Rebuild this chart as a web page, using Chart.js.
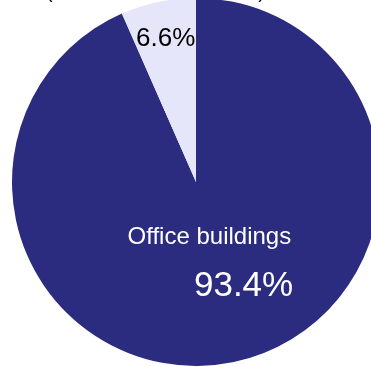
<!DOCTYPE html>
<html lang="en">
<head>
    <meta charset="UTF-8">
    <meta name="viewport" content="width=device-width, initial-scale=1.0">
    <title>Floor space by building type</title>
    <script src="https://cdn.jsdelivr.net/npm/chart.js"></script>

    <style>
        html, body {
            margin: 0;
            padding: 0;
            background-color: white;
            overflow: hidden;
        }
        #wrap {
            position: absolute;
            left: 0;
            top: -36px;
            width: 392px;
            height: 402px;
        }
    </style>

</head>
<body>
    <div id="wrap"><canvas id="pieChart"></canvas></div>
    <script>
        const categories = ['Office buildings', 'Other buildings'];
        const shares = [93.4, 6.6];
        const sliceColors = ['#2b2b7f', '#e6e6fa'];
        const caption = '(share of total floor area)';

        const fontFamily = '"Liberation Sans", Arial, sans-serif';

        // caption line above the pie, mostly cut off by the top edge
        const captionLine = {
            id: 'captionLine',
            afterDraw(chart) {
                const ctx = chart.ctx;
                ctx.save();
                ctx.fillStyle = '#000';
                ctx.font = '20px ' + fontFamily;
                ctx.textAlign = 'left';
                ctx.textBaseline = 'alphabetic';
                ctx.fillText(caption, chart.chartArea.left + 46, chart.chartArea.top);
                ctx.restore();
            }
        };

        // percentage labels written on the slices
        const sliceLabels = {
            id: 'sliceLabels',
            afterDatasetsDraw(chart) {
                const ctx = chart.ctx;
                const arcs = chart.getDatasetMeta(0).data;
                ctx.save();
                arcs.forEach(function(arc, i) {
                    const p = arc.getProps(['x', 'y', 'startAngle', 'endAngle', 'outerRadius'], true);
                    const mid = (p.startAngle + p.endAngle) / 2;
                    const text = shares[i].toFixed(1) + '%';
                    if (i === 0) {
                        const px = p.x + Math.cos(mid) * p.outerRadius * 0.3 + 2;
                        const py = p.y + Math.sin(mid) * p.outerRadius * 0.3 + 1;
                        ctx.fillStyle = '#fff';
                        ctx.font = '24px ' + fontFamily;
                        ctx.textAlign = 'center';
                        ctx.textBaseline = 'middle';
                        ctx.fillText(categories[i], px, py);
                        const right = px + ctx.measureText(categories[i]).width / 2 + 2;
                        ctx.font = '35px ' + fontFamily;
                        ctx.textAlign = 'right';
                        ctx.fillText(text, right, py + 49);
                    } else {
                        const px = p.x + Math.cos(mid) * p.outerRadius * 0.8;
                        const py = p.y + Math.sin(mid) * p.outerRadius * 0.8;
                        ctx.fillStyle = '#000';
                        ctx.font = '26px ' + fontFamily;
                        ctx.textAlign = 'center';
                        ctx.textBaseline = 'middle';
                        ctx.fillText(text, px, py + 1);
                    }
                });
                ctx.restore();
            }
        };

        const ctx = document.getElementById('pieChart').getContext('2d');
        const chart = new Chart(ctx, {
            type: 'pie',
            data: {
                labels: categories,
                datasets: [{
                    data: shares,
                    backgroundColor: sliceColors,
                    borderWidth: 0,
                    hoverOffset: 0,
                    offset: 0
                }]
            },
            options: {
                responsive: true,
                maintainAspectRatio: false,
                animation: false,
                layout: {
                    padding: { top: 34, left: 0, right: 0, bottom: 0 }
                },
                plugins: {
                    legend: { display: false },
                    tooltip: { enabled: false },
                    title: { display: false }
                }
            },
            plugins: [captionLine, sliceLabels]
        });
    </script>
</body>
</html>
